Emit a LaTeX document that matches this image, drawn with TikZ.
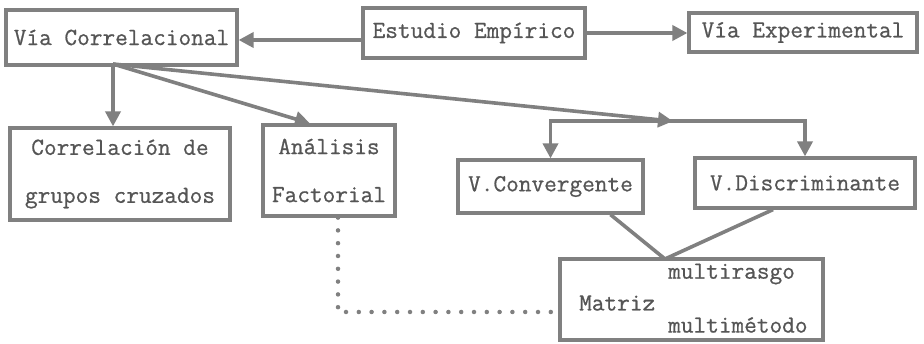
\documentclass[tikz,border=0pt]{standalone}
\usepackage{fontspec}
\setmonofont{Latin Modern Mono}[FakeBold=0.7]
\usetikzlibrary{arrows.meta}
\definecolor{lc}{RGB}{128,128,128}
\definecolor{tc}{RGB}{85,85,85}
\tikzset{
  box/.style={draw=lc, line width=3.2pt, text=tc, inner sep=0pt,
    font=\ttfamily\fontsize{24.6}{48}\selectfont, align=center},
  txt/.style={text=tc, inner sep=0pt, font=\ttfamily\fontsize{24.6}{28}\selectfont},
  conn/.style={draw=lc, line width=3.6pt},
  arr/.style={conn, -{Triangle[length=15pt,width=15pt]}},
  dots/.style={draw=lc, line width=4.5pt, line cap=round, dash pattern=on 0pt off 12.8pt}
}
\begin{document}
\begin{tikzpicture}[x=1pt,y=-1pt]
\useasboundingbox (0,0) rectangle (924,344);
\fill[white] (0,0) rectangle (924,344);
\node[box, minimum width=231pt, minimum height=55pt] (VC) at (121.5,37.5) {Vía Correlacional};
\node[box, minimum width=222pt, minimum height=50pt] (EE) at (474,33) {Estudio Empírico};
\node[box, minimum width=228pt, minimum height=39pt] (VE) at (803,32.5) {Vía Experimental};
\node[box, minimum width=220pt, minimum height=92pt] (CG) at (120,174) {Correlación de\\grupos cruzados};
\node[box, minimum width=132pt, minimum height=91pt] (AF) at (329,170.5) {Análisis\\Factorial};
\node[box, minimum width=185pt, minimum height=53pt] (VCo) at (550.5,186.5) {V.Convergente};
\node[box, minimum width=220pt, minimum height=50pt] (VD) at (805,183) {V.Discriminante};
\node[box, minimum width=263pt, minimum height=81pt] (MM) at (691.5,299.5) {};
\node[txt, anchor=west] (t1) at (668,274) {multirasgo};
\node[txt, anchor=west] (t2) at (579,303) {Matriz};
\node[txt, anchor=west] (t3) at (668,325) {multimétodo};

\coordinate (b) at (113,64);
\coordinate (j) at (671,121);
\coordinate (m) at (665,259);
\coordinate (ew) at ([yshift=-7pt]EE.west);
\coordinate (dc) at (338,312);

\draw[arr] (ew) -- (VC.east |- ew);
\draw[arr] (EE.east) -- (VE.west |- EE.east);
\draw[arr] (b) -- (b |- CG.north);
\draw[arr] (b) -- ([xshift=-19pt]AF.north);
\draw[arr, shorten >=-2pt] (b) -- (j);
\draw[arr] (j) -| (VCo.north);
\draw[arr] (j) -| (VD.north);
\draw[conn] ([xshift=60pt]VCo.south) -- (m);
\draw[conn] ([xshift=-32pt]VD.south) -- (m);
\draw[dots] ([xshift=9pt]AF.south) |- (MM.west |- dc);
\end{tikzpicture}
\end{document}
